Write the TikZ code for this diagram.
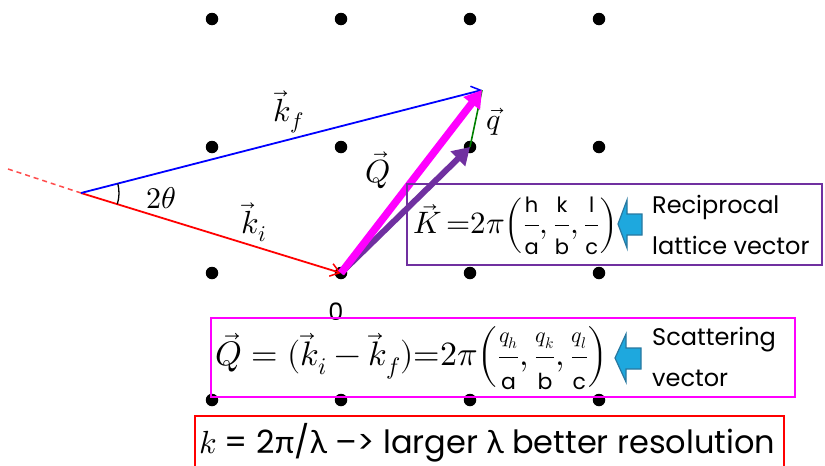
\documentclass[tikz,border=0pt]{standalone}
\usepackage{amsmath}
\usepackage{unicode-math}
\setmainfont{Poppins}
\newfontfamily\grk{Lato}
\setmathfont{Latin Modern Math}
\usetikzlibrary{arrows.meta,angles}
\definecolor{vred}{RGB}{255,0,0}
\definecolor{vblue}{RGB}{0,0,255}
\definecolor{vmag}{RGB}{255,0,255}
\definecolor{vpur}{RGB}{112,48,160}
\definecolor{vgreen}{RGB}{0,128,0}
\definecolor{callfill}{RGB}{30,168,222}
\definecolor{calldraw}{RGB}{40,120,160}
\tikzset{
  latt/.style={circle,fill=black,inner sep=0pt,minimum size=12.5pt},
  lbl/.style={inner sep=0pt},
  boxline/.style={line width=2.5pt},
  callout/.style={fill=callfill,draw=calldraw,line width=1.2pt,line join=miter},
  thinvec/.style={line width=1.8pt,-{Straight Barb[length=9pt,width=13pt,line width=1.5pt]}},
  fatvec/.style={line width=#1,-{Triangle[length=17pt,width=20pt]}},
}
\newcommand{\fs}[1]{\fontsize{#1}{#1}\selectfont}
\newcommand{\sm}[1]{\text{\fs{22}#1}}
\newcommand{\smk}[1]{\text{\fs{21}#1}}
\newcommand{\tf}[2]{\dfrac{\smk{#1}}{\smk{#2}}}
\begin{document}
\begin{tikzpicture}[x=1pt,y=-1pt]
\useasboundingbox (0,0) rectangle (825,466);
% lattice dots
\foreach \i/\x in {1/212,2/341,3/470,4/599}{
  \foreach \j/\y in {1/19,2/147,3/273,4/400}{
    \node[latt] (d\i\j) at (\x,\y) {};
  }
}
\coordinate (O) at (d23.center);
\coordinate (G) at (d32.center);
\coordinate (A) at (81,193);
\coordinate (F) at (482,90);
\coordinate (T) at (8,169);
% incident extension
\draw[vred!70,line width=1.5pt,dash pattern=on 5pt off 4pt] (T) -- (A);
% ki and kf
\draw[vred,thinvec] (A) -- (O);
\draw[vblue,thinvec] (A) -- (F);
% angle
\draw pic[draw=black,line width=1.3pt,angle radius=38pt] {angle = O--A--F};
% q
\draw[vgreen,line width=1.6pt] (G) -- (F);
% K and Q
\draw[vpur,fatvec=6pt] (O) -- (G);
\draw[vmag,fatvec=7.5pt] (O) -- (F);
% labels
\node[lbl] (lkf) at (289,112) {\fs{32}$\vec{k}_f$};
\node[lbl] (lki) at (254,222) {\fs{32}$\vec{k}_i$};
\node[lbl] (lth) at (161,198) {\fs{30}$2\theta$};
\node[lbl] (lQ) at (378,170) {\fs{32}$\vec{Q}$};
\node[lbl] (lq) at (494,122) {\fs{30}$\vec{q}$};
\node[lbl] (l0) at (336,312) {\fs{24}0};
% K box
\draw[vpur,boxline] (407,184) rectangle (822,265);
\node[lbl,anchor=west] (Kf) at (413,226) {\fs{31}$\vec{K}\,{=}2\pi{\left(\tf{h}{a},\tf{k}{b},\tf{l}{c}\right)}$};
\draw[callout] (618,224) -- (627,200) -- (627,214) -- (642,214) -- (642,235) -- (627,235) -- (627,248) -- cycle;
\node[lbl,anchor=west] (rec1) at (652,207) {\fs{24}Reciprocal};
\node[lbl,anchor=west] (rec2) at (652,245) {\fs{24}lattice vector};
% Q box
\draw[vmag,boxline] (211,318) rectangle (795,397);
\node[lbl,anchor=west] (Qf) at (215,358) {\fs{34}$\vec{Q}=(\vec{k}_i-\vec{k}_f){=}2\pi{\left(\dfrac{\sm{$q_h$}}{\sm{a}},\dfrac{\sm{$q_k$}}{\sm{b}},\dfrac{\sm{$q_l$}}{\sm{c}}\right)}$};
\draw[callout] (615,358) -- (626,334) -- (626,348) -- (641,348) -- (641,369) -- (626,369) -- (626,382) -- cycle;
\node[lbl,anchor=west] (sc1) at (652,340) {\fs{24}Scattering};
\node[lbl,anchor=west] (sc2) at (652,378) {\fs{24}vector};
% red box
\draw[vred,boxline] (195,416) rectangle (784,476);
\node[lbl,anchor=west] (res) at (199,443) {\fs{32}$k$ = 2{\grk π}/{\grk λ} –> larger {\grk λ} better resolution};
\end{tikzpicture}
\end{document}
